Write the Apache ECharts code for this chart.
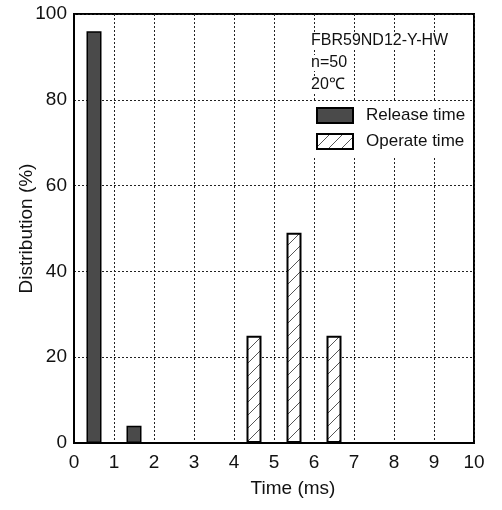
<!DOCTYPE html>
<html><head><meta charset="utf-8">
<script src="https://cdn.jsdelivr.net/npm/echarts@6/dist/echarts.min.js"></script>
<style>html,body{margin:0;padding:0;background:#fff}#c{width:502px;height:510px}</style>
</head><body><div id="c"></div>
<script>
// ---- data ----
const releaseTimes = [0.5, 1.5];
const releaseDist = [96, 4];
const operateTimes = [4.5, 5.5, 6.5];
const operateDist = [25, 49, 25];
const xTickValues = [0, 1, 2, 3, 4, 5, 6, 7, 8, 9, 10];
const yTickValues = [0, 20, 40, 60, 80, 100];
const seriesNames = ['Release time', 'Operate time'];
const infoLines = ['FBR59ND12-Y-HW', 'n=50', '20\u2103'];

const FONT = 'Liberation Sans';

function hatch() {
  const s = 13;
  const c = document.createElement('canvas');
  c.width = s; c.height = s;
  const g = c.getContext('2d');
  g.fillStyle = '#fff'; g.fillRect(0, 0, s, s);
  g.strokeStyle = '#555'; g.lineWidth = 1;
  g.beginPath();
  g.moveTo(-1, s + 1); g.lineTo(s + 1, -1);
  g.moveTo(-1, 1); g.lineTo(1, -1);
  g.moveTo(s - 1, s + 1); g.lineTo(s + 1, s - 1);
  g.stroke();
  return c;
}

const chart = echarts.init(document.getElementById('c'), null, {renderer: 'canvas'});
const gridStyle = {show: true, lineStyle: {color: '#222', width: 1, type: [2, 2]}};
chart.setOption({
  animation: false,
  textStyle: {fontFamily: FONT},
  grid: {left: 74, right: 28, top: 14, bottom: 67, show: true, borderColor: '#000', borderWidth: 2, containLabel: false},
  xAxis: {
    type: 'value', min: xTickValues[0], max: xTickValues[xTickValues.length - 1], interval: 1,
    axisLine: {show: true, lineStyle: {color: '#000', width: 2}},
    axisTick: {show: false},
    axisLabel: {fontSize: 19, color: '#111', margin: 10},
    splitLine: gridStyle,
    name: 'Time (ms)', nameLocation: 'middle', nameGap: 36, nameMoveOverlap: false,
    nameTextStyle: {fontSize: 19, color: '#111', padding: [0, 0, 0, 38]}
  },
  yAxis: {
    type: 'value', min: yTickValues[0], max: yTickValues[yTickValues.length - 1], interval: 20,
    axisLine: {show: true, lineStyle: {color: '#000', width: 2}},
    axisTick: {show: false},
    axisLabel: {fontSize: 19, color: '#111', margin: 7},
    splitLine: gridStyle,
    name: 'Distribution (%)', nameLocation: 'middle', nameGap: 38, nameMoveOverlap: false,
    nameTextStyle: {fontSize: 19, color: '#111'}
  },
  legend: {
    orient: 'vertical', left: 312, top: 102,
    padding: [5, 4, 6, 4], itemGap: 9, itemWidth: 36, itemHeight: 15,
    backgroundColor: '#fff',
    data: [{name: seriesNames[0], icon: 'rect'}, {name: seriesNames[1], icon: 'rect'}],
    textStyle: {fontSize: 17, color: '#111', padding: [0, 0, 0, 8]},
    selectedMode: false
  },
  graphic: infoLines.map((t, i) => ({
    type: 'text', left: 311, top: 33 + i * 22, z: 100,
    style: {text: t, font: '16px ' + FONT, fill: '#111', backgroundColor: '#fff'}
  })),
  series: [
    {
      name: seriesNames[0], type: 'bar', barWidth: 15, barGap: '-100%',
      itemStyle: {color: '#4a4a4a', borderColor: '#000', borderWidth: 1.5},
      data: releaseTimes.map((x, i) => [x, releaseDist[i]])
    },
    {
      name: seriesNames[1], type: 'bar', barWidth: 15, barGap: '-100%',
      itemStyle: {color: {image: hatch(), repeat: 'repeat'}, borderColor: '#000', borderWidth: 2},
      data: operateTimes.map((x, i) => [x, operateDist[i]])
    }
  ]
});
</script></body></html>
